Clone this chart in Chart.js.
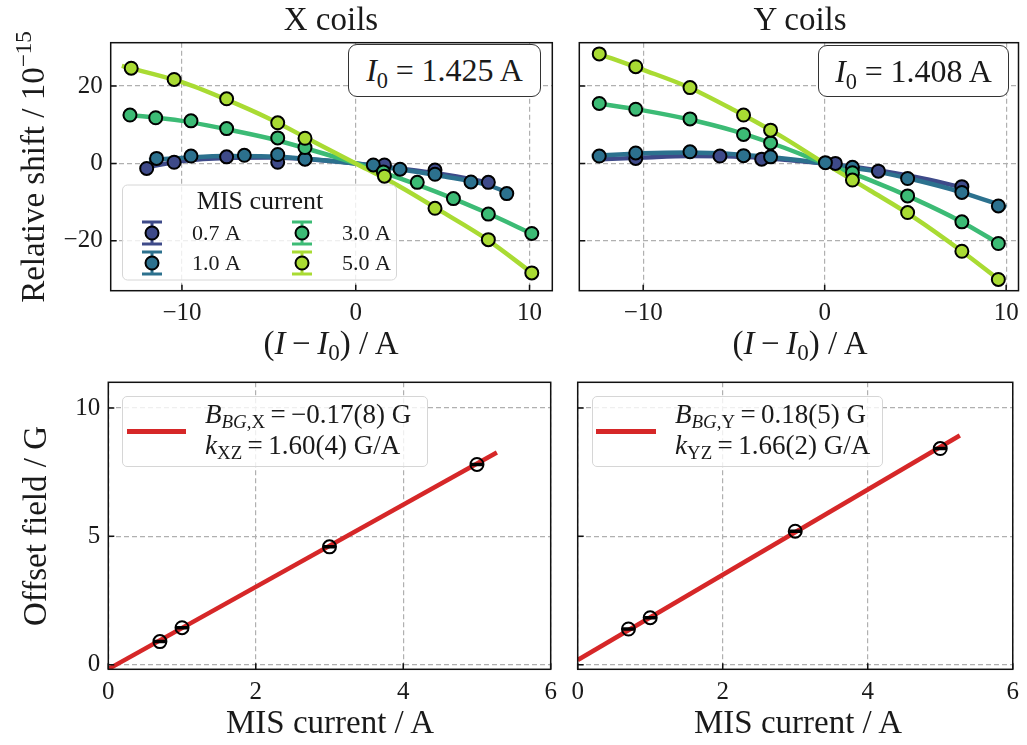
<!DOCTYPE html>
<html>
<head>
<meta charset="utf-8">
<script src="https://cdn.jsdelivr.net/npm/chart.js@4.4.0/dist/chart.umd.min.js"></script>
<style>
  body { margin: 0; background: #fff; }
  #fig { position: relative; width: 1027px; height: 745px; font-family: "Liberation Serif", serif; color: #1a1a1a; }
  #fig canvas { position: absolute; left: 0; top: 0; }
  .lbl { position: absolute; transform: translate(-50%, -50%); white-space: nowrap; line-height: 1; font-size: 33px; }
  .rot { transform: translate(-50%, -50%) rotate(-90deg); }
  .lbl sub, .box sub, .leg sub { font-size: 0.7em; vertical-align: -0.3em; line-height: 0; }
  .lbl sup { font-size: 0.7em; vertical-align: 0.55em; line-height: 0; }
  .box { position: absolute; box-sizing: border-box; border: 1.5px solid #333; border-radius: 9px; background: #fff;
         font-size: 32px; display: flex; align-items: center; justify-content: center; white-space: nowrap; }
  .box .eq { margin: 0 0.24em; }
  .leg { position: absolute; box-sizing: border-box; border: 1px solid #d6d6d6; border-radius: 5px; background: rgba(255,255,255,0.8); }
  .leg .swatch { position: absolute; height: 4.5px; background: #d62728; }
  .leg .row { position: absolute; font-size: 27px; white-space: nowrap; line-height: 1; transform: translateY(-50%); }
  .leg .eq { margin: 0 0.2em; }
  .eq { margin: 0 0.16em; }
</style>
</head>
<body>
<div id="fig">
  <canvas id="shiftX" width="1027" height="745"></canvas>
  <canvas id="shiftY" width="1027" height="745"></canvas>
  <canvas id="offX" width="1027" height="745"></canvas>
  <canvas id="offY" width="1027" height="745"></canvas>

  <div class="lbl" style="left:331px; top:19px;">X coils</div>
  <div class="lbl" style="left:800px; top:19px;">Y coils</div>
  <div class="lbl" style="left:331px; top:343px;">(<i>I</i>&thinsp;&minus;&thinsp;<i>I</i><sub>0</sub>) / A</div>
  <div class="lbl" style="left:800px; top:343px;">(<i>I</i>&thinsp;&minus;&thinsp;<i>I</i><sub>0</sub>) / A</div>
  <div class="lbl" style="left:330px; top:722px;">MIS current / A</div>
  <div class="lbl" style="left:798px; top:722px;">MIS current / A</div>
  <div class="lbl rot" style="left:33px; top:167px;">Relative shift / 10<sup>&minus;15</sup></div>
  <div class="lbl rot" style="left:35px; top:526px;">Offset field / G</div>

  <div class="box" style="left:348px; top:44px; width:193px; height:53px;"><span><i>I</i><sub>0</sub><span class="eq">=</span>1.425 A</span></div>
  <div class="box" style="left:818px; top:45px; width:191px; height:52px;"><span><i>I</i><sub>0</sub><span class="eq">=</span>1.408 A</span></div>

  <div class="leg" style="left:122px; top:396px; width:306px; height:71px;">
    <div class="swatch" style="left:4px; top:32px; width:59px;"></div>
    <div class="row" style="left:82px; top:17px;"><i>B</i><sub><i>BG</i>,X</sub><span class="eq">=</span>&minus;0.17(8) G</div>
    <div class="row" style="left:82px; top:48px;"><i>k</i><sub>XZ</sub><span class="eq">=</span>1.60(4) G/A</div>
  </div>
  <div class="leg" style="left:592px; top:396px; width:291px; height:71px;">
    <div class="swatch" style="left:3px; top:32px; width:60px;"></div>
    <div class="row" style="left:82px; top:17px;"><i>B</i><sub><i>BG</i>,Y</sub><span class="eq">=</span>0.18(5) G</div>
    <div class="row" style="left:82px; top:48px;"><i>k</i><sub>YZ</sub><span class="eq">=</span>1.66(2) G/A</div>
  </div>
</div>

<script>
// MIS currents and their colours (viridis picks)
const currents = ['0.7 A', '1.0 A', '3.0 A', '5.0 A'];
const colors = ['#3e4a89', '#2c718e', '#3cbb75', '#a9db33'];

// X coils: measured shift vs (I - I0)
const xDx07 = [-12.03, -10.45, -7.43, -4.49, -2.92, 1.65, 4.56, 7.63];
const xDy07 = [-1.3, 0.3, 1.7, 0.3, 1.2, -0.4, -1.7, -4.9];
const xDx10 = [-11.46, -9.48, -6.41, -4.49, -2.92, 1.01, 2.55, 4.56, 6.63, 8.69];
const xDy10 = [1.3, 1.9, 2.1, 2.3, 1.1, -0.4, -1.5, -2.8, -4.8, -7.8];
const xDx30 = [-12.99, -11.51, -9.48, -7.43, -4.49, -2.92, 1.59, 3.54, 5.62, 7.63, 10.13];
const xDy30 = [12.5, 11.8, 11.0, 9.0, 6.6, 4.1, -2.2, -4.9, -9.1, -13.1, -18.1];
const xDx50 = [-12.92, -10.45, -7.43, -4.49, -2.92, 1.65, 4.56, 7.63, 10.13];
const xDy50 = [24.6, 21.7, 16.7, 10.5, 6.5, -3.3, -11.6, -19.7, -28.3];

// X coils: fitted curves
const xFx07 = [-12.3, -10, -7.5, -5, -2.5, 0, 2.5, 5, 7.9];
const xFy07 = [-1.2, 0.6, 1.4, 1.5, 1.0, 0, -1.3, -2.8, -5.1];
const xFx10 = [-11.9, -10, -7.5, -5, -2.5, 0, 2.5, 5, 7.5, 9.0];
const xFy10 = [0.9, 1.4, 1.9, 1.8, 1.1, 0, -1.5, -3.3, -5.5, -8.0];
const xFx30 = [-13.4, -10, -7.5, -5, -2.5, 0, 2.5, 5, 7.5, 10.2];
const xFy30 = [12.7, 11.0, 8.9, 6.5, 3.4, 0, -3.8, -8.0, -12.7, -18.3];
const xFx50 = [-13.46, -10, -7.5, -5, -2.5, 0, 2.5, 5, 7.5, 10.2];
const xFy50 = [25.2, 21.0, 16.6, 11.6, 5.8, 0, -5.9, -12.6, -19.5, -28.5];

// Y coils: measured shift vs (I - I0)
const yDx07 = [-10.41, -5.77, -3.47, 0.59, 2.96, 7.56];
const yDy07 = [1.3, 1.9, 1.1, 0.0, -2.0, -6.0];
const yDx10 = [-12.42, -10.41, -7.42, -4.47, -2.98, 0.04, 1.53, 4.57, 7.56, 9.57];
const yDy10 = [1.9, 2.7, 3.0, 2.0, 1.7, 0.2, -1.0, -3.9, -7.5, -11.0];
const yDx30 = [-12.42, -10.41, -7.42, -4.47, -2.98, 1.53, 4.57, 7.56, 9.57];
const yDy30 = [15.5, 14.0, 11.5, 7.5, 5.3, -2.4, -8.4, -15.1, -20.7];
const yDx50 = [-12.42, -10.41, -7.42, -4.47, -2.98, 1.53, 4.57, 7.56, 9.57];
const yDy50 = [28.3, 25.0, 19.6, 12.5, 8.6, -4.3, -12.7, -22.7, -30.0];

// Y coils: fitted curves
const yFx07 = [-12.6, -10, -7.5, -5, -2.5, 0, 2.5, 5, 7.7];
const yFy07 = [1.0, 1.5, 1.9, 1.8, 1.1, 0, -1.5, -3.5, -6.3];
const yFx10 = [-12.84, -10, -7.5, -5, -2.5, 0, 2.5, 5, 7.5, 10.0];
const yFy10 = [1.9, 2.6, 2.8, 2.4, 1.4, 0, -1.8, -4.3, -7.4, -11.3];
const yFx30 = [-12.6, -10, -7.5, -5, -2.5, 0, 2.5, 5, 7.5, 9.7];
const yFy30 = [15.6, 13.7, 11.4, 8.4, 4.5, 0, -4.3, -9.3, -15.0, -21.0];
const yFx50 = [-12.6, -10, -7.5, -5, -2.5, 0, 2.5, 5, 7.5, 9.7];
const yFy50 = [28.6, 24.2, 19.7, 13.8, 7.3, 0, -7.0, -14.2, -22.5, -30.4];

// bottom row: offset field vs MIS current, plus linear fit (intercept, slope)
const misCurrent = [0.7, 1.0, 3.0, 5.0];
const offsetX = [0.90, 1.44, 4.59, 7.80];
const offsetY = [1.39, 1.83, 5.20, 8.42];
const fitX = [-0.17, 1.60];
const fitY = [0.18, 1.66];
const fitRange = [0, 5.27];

// axis ticks
const shiftXTicks = [-10, 0, 10];
const shiftYTicks = [-20, 0, 20];
const offXTicks = [0, 2, 4, 6];
const offYTicks = [0, 5, 10];

const W = 1027, H = 745, YAXIS_W = 70, XAXIS_H = 44;
const FONT = 'Liberation Serif';

function pts(xs, ys) { return xs.map((x, i) => ({ x: x, y: ys[i] })); }
function fmt(v) { return v < 0 ? '\u2212' + Math.abs(v) : String(v); }

function axis(min, max, ticks, labels) {
  return {
    type: 'linear', min: min, max: max,
    afterBuildTicks: s => { s.ticks = ticks.map(v => ({ value: v })); },
    afterFit: s => { if (s.isHorizontal()) s.height = XAXIS_H; else s.width = YAXIS_W; },
    grid: { color: '#b0b0b0', lineWidth: 1.2, drawTicks: false },
    border: { display: false, dash: [5, 3] },
    ticks: { display: labels, autoSkip: false, maxRotation: 0, color: '#1a1a1a', padding: 8,
             font: { family: FONT, size: 25 }, callback: v => fmt(v) }
  };
}

// closed frame with inward tick marks on left and bottom
const frame = {
  id: 'frame',
  afterDraw(chart) {
    const { ctx, chartArea: a, scales } = chart;
    ctx.save();
    ctx.strokeStyle = '#111';
    ctx.lineWidth = 1.5;
    ctx.setLineDash([]);
    ctx.beginPath();
    scales.x.ticks.forEach(t => {
      const px = scales.x.getPixelForValue(t.value);
      ctx.moveTo(px, a.bottom); ctx.lineTo(px, a.bottom - 6);
    });
    scales.y.ticks.forEach(t => {
      const py = scales.y.getPixelForValue(t.value);
      ctx.moveTo(a.left, py); ctx.lineTo(a.left + 6, py);
    });
    ctx.stroke();
    ctx.strokeRect(a.left, a.top, a.right - a.left, a.bottom - a.top);
    ctx.restore();
  }
};

// "MIS current" legend with errorbar handles, two columns
const misLegend = {
  id: 'misLegend',
  afterDraw(chart) {
    const ctx = chart.ctx;
    ctx.save();
    ctx.beginPath();
    ctx.roundRect(122.5, 185, 274, 95, 5);
    ctx.fillStyle = 'rgba(255,255,255,0.8)';
    ctx.fill();
    ctx.strokeStyle = '#d6d6d6';
    ctx.lineWidth = 1;
    ctx.stroke();
    ctx.fillStyle = '#1a1a1a';
    ctx.textBaseline = 'middle';
    ctx.textAlign = 'center';
    ctx.font = '26px "' + FONT + '"';
    ctx.fillText('MIS current', 260, 202);
    ctx.textAlign = 'left';
    ctx.font = '22px "' + FONT + '"';
    const spots = [[152, 233], [152, 263], [302, 233], [302, 263]];
    currents.forEach((c, i) => {
      const [mx, my] = spots[i];
      ctx.strokeStyle = colors[i];
      ctx.lineWidth = 3;
      ctx.beginPath();
      ctx.moveTo(mx, my - 11); ctx.lineTo(mx, my + 11);
      ctx.moveTo(mx - 10, my - 11); ctx.lineTo(mx + 10, my - 11);
      ctx.moveTo(mx - 10, my + 11); ctx.lineTo(mx + 10, my + 11);
      ctx.stroke();
      ctx.beginPath();
      ctx.arc(mx, my, 6.5, 0, Math.PI * 2);
      ctx.fillStyle = colors[i];
      ctx.fill();
      ctx.lineWidth = 2;
      ctx.strokeStyle = '#000';
      ctx.stroke();
      ctx.fillStyle = '#1a1a1a';
      ctx.fillText(c, mx + 40, my + 1);
    });
    ctx.restore();
  }
};

function padding(area) {
  return { left: area.left - YAXIS_W, right: W - area.right, top: area.top, bottom: H - area.bottom - XAXIS_H };
}

function shiftSets(fits, meas) {
  const sets = [];
  currents.forEach((c, i) => {
    sets.push({ label: c + ' fit', data: pts(fits[i][0], fits[i][1]), showLine: true,
                borderColor: colors[i], borderWidth: 4.5, pointRadius: 0,
                cubicInterpolationMode: 'monotone', order: 10 - i });
  });
  currents.forEach((c, i) => {
    sets.push({ label: c, data: pts(meas[i][0], meas[i][1]), backgroundColor: colors[i],
                borderColor: '#000', borderWidth: 2, pointRadius: 6.5, order: 5 - i });
  });
  return sets;
}

function offsetSets(ys, fit) {
  const fx = fitRange;
  return [
    { label: 'fit', data: pts(fx, fx.map(x => fit[0] + fit[1] * x)), showLine: true,
      borderColor: '#d62728', borderWidth: 4.5, pointRadius: 0, order: 3 },
    { label: 'errorbar', data: pts(misCurrent, ys), pointStyle: 'line', pointRadius: 6,
      borderColor: '#000', borderWidth: 3.5, order: 2 },
    { label: 'offset', data: pts(misCurrent, ys), pointStyle: 'circle', pointRadius: 6.5,
      backgroundColor: 'rgba(0,0,0,0)', borderColor: '#000', borderWidth: 2, order: 1 }
  ];
}

function panel(id, area, datasets, xAxis, yAxis, extra) {
  new Chart(document.getElementById(id), {
    type: 'scatter',
    data: { datasets: datasets },
    options: {
      responsive: false, animation: false, devicePixelRatio: 1,
      layout: { padding: padding(area) },
      scales: { x: xAxis, y: yAxis },
      plugins: { legend: { display: false }, tooltip: { enabled: false } }
    },
    plugins: [frame].concat(extra || [])
  });
}

panel('shiftX', { left: 110.7, top: 42.7, right: 552.3, bottom: 290.7 },
  shiftSets([[xFx07, xFy07], [xFx10, xFy10], [xFx30, xFy30], [xFx50, xFy50]],
            [[xDx07, xDy07], [xDx10, xDy10], [xDx30, xDy30], [xDx50, xDy50]]),
  axis(-14.1, 11.31, shiftXTicks, true), axis(-32.9, 31.2, shiftYTicks, true), [misLegend]);

panel('shiftY', { left: 579.3, top: 42.7, right: 1021, bottom: 290.7 },
  shiftSets([[yFx07, yFy07], [yFx10, yFy10], [yFx30, yFy30], [yFx50, yFy50]],
            [[yDx07, yDy07], [yDx10, yDy10], [yDx30, yDy30], [yDx50, yDy50]]),
  axis(-13.52, 10.68, shiftXTicks, true), axis(-32.9, 31.2, shiftYTicks, false));

panel('offX', { left: 108.3, top: 382.3, right: 550.7, bottom: 669.3 },
  offsetSets(offsetX, fitX), axis(0, 6, offXTicks, true), axis(-0.18, 11.0, offYTicks, true));

panel('offY', { left: 577.7, top: 382.3, right: 1019, bottom: 669.3 },
  offsetSets(offsetY, fitY), axis(0, 6, offXTicks, true), axis(-0.18, 11.0, offYTicks, false));
</script>
</body>
</html>
